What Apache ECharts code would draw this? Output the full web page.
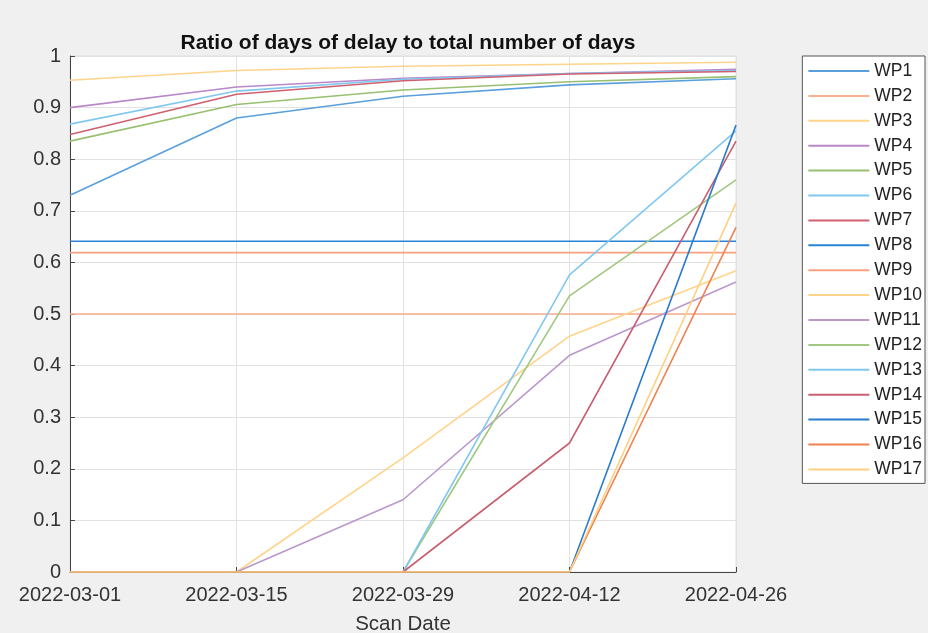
<!DOCTYPE html>
<html><head><meta charset="utf-8">
<script src="https://cdn.jsdelivr.net/npm/echarts@6/dist/echarts.min.js"></script>
<style>html,body{margin:0;padding:0;background:#f0f0f0;}#c{width:928px;height:633px;}</style>
</head><body><div id="c"></div>
<script>
const dates = ['2022-03-01','2022-03-15','2022-03-29','2022-04-12','2022-04-26'];
const yTicks = [0,0.1,0.2,0.3,0.4,0.5,0.6,0.7,0.8,0.9,1];
const names = ['WP1','WP2','WP3','WP4','WP5','WP6','WP7','WP8','WP9','WP10','WP11','WP12','WP13','WP14','WP15','WP16','WP17'];
const colors = ['#5aa0dc','#f8b090','#ffd48a','#b888c8','#98c070','#80c8f0','#d06070','#2a82d6','#f8a080','#ffd48a','#bb98cc','#a0c880','#80c8f0','#c86070','#2a7ccc','#f08050','#ffd080'];
const WP1  = [0.730,0.880,0.922,0.944,0.956];
const WP2  = [0.500,0.500,0.500,0.500,0.500];
const WP3  = [0.953,0.972,0.980,0.984,0.988];
const WP4  = [0.900,0.940,0.957,0.966,0.974];
const WP5  = [0.835,0.906,0.934,0.950,0.960];
const WP6  = [0.868,0.932,0.955,0.966,0.972];
const WP7  = [0.848,0.926,0.952,0.965,0.970];
const WP8  = [0.641,0.641,0.641,0.641,0.641];
const WP9  = [0.619,0.619,0.619,0.619,0.619];
const WP10 = [0,0,0.221,0.457,0.584];
const WP11 = [0,0,0.140,0.420,0.562];
const WP12 = [0,0,0,0.535,0.760];
const WP13 = [0,0,0,0.576,0.855];
const WP14 = [0,0,0,0.250,0.835];
const WP15 = [0,0,0,0,0.866];
const WP16 = [0,0,0,0,0.668];
const WP17 = [0,0,0,0,0.715];
const values = [WP1,WP2,WP3,WP4,WP5,WP6,WP7,WP8,WP9,WP10,WP11,WP12,WP13,WP14,WP15,WP16,WP17];

const font = 'Liberation Sans, Arial, sans-serif';
const chart = echarts.init(document.getElementById('c'));
chart.setOption({
  backgroundColor: '#f0f0f0',
  animation: false,
  color: colors,
  title: {
    text: 'Ratio of days of delay to total number of days',
    left: 403, top: 28, textAlign: 'center',
    textStyle: {fontFamily: font, fontSize: 21, fontWeight: 'bold', color: '#111'}
  },
  grid: {left: 70, right: 192, top: 56, bottom: 61, containLabel: false, outerBoundsMode: 'none',
    show: true, backgroundColor: '#fff', borderColor: '#e0e0e0', borderWidth: 1},
  legend: {
    orient: 'vertical', right: 3, top: 56,
    padding: [6, 3, 5, 6],
    itemGap: 6.9,
    itemWidth: 61, itemHeight: 18,
    backgroundColor: '#fff', borderColor: '#555', borderWidth: 1,
    icon: 'path://M0,8 L60,8 L60,10 L0,10 Z',
    textStyle: {fontFamily: font, fontSize: 17.5, color: '#222'},
    data: names
  },
  xAxis: {
    type: 'category', data: dates, boundaryGap: false,
    name: 'Scan Date', nameLocation: 'middle', nameGap: 42,
    nameTextStyle: {fontFamily: font, fontSize: 20.5, color: '#333'},
    axisLine: {lineStyle: {color: '#444'}},
    axisTick: {show: true, inside: true, length: 5, alignWithLabel: true, lineStyle: {color: '#444'}},
    axisLabel: {fontFamily: font, fontSize: 20, color: '#333', margin: 13},
    splitLine: {show: true, lineStyle: {color: '#e2e2e2'}}
  },
  yAxis: {
    type: 'value', min: 0, max: 1, interval: 0.1,
    axisLine: {show: true, lineStyle: {color: '#444'}},
    axisTick: {show: true, inside: true, length: 5, lineStyle: {color: '#444'}},
    axisLabel: {fontFamily: font, fontSize: 20, color: '#333', margin: 9,
      formatter: v => { const t = yTicks.find(x => Math.abs(x - v) < 1e-9); return String(Math.round(t*10)/10); }},
    splitLine: {show: true, lineStyle: {color: '#e2e2e2'}}
  },
  series: names.map((n, i) => ({
    name: n, type: 'line', data: values[i], symbol: 'none',
    lineStyle: {width: 1.6, color: colors[i]}, itemStyle: {color: colors[i]}
  }))
});
</script></body></html>
